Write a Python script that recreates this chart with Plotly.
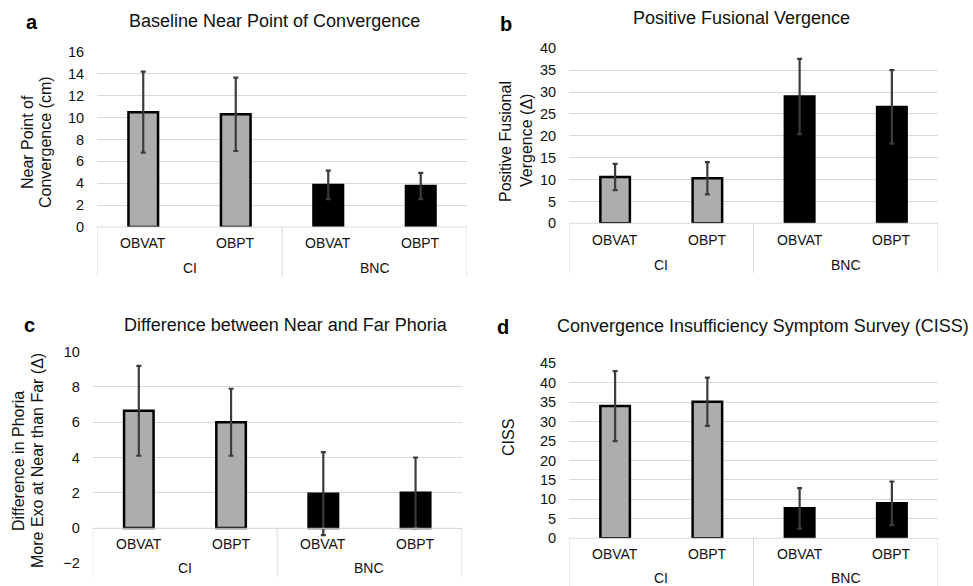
import plotly.graph_objects as go

W, H = 973, 586

# ---- data ----
groups = ["CI", "CI", "BNC", "BNC"]
treatments = ["OBVAT", "OBPT", "OBVAT", "OBPT"]
group_names = ["CI", "BNC"]

npc_mean = [10.5, 10.3, 3.85, 3.75]
npc_sd = [3.7, 3.35, 1.3, 1.2]
pfv_mean = [10.6, 10.3, 29.0, 26.6]
pfv_sd = [3.0, 3.7, 8.6, 8.4]
phoria_mean = [6.65, 6.0, 1.95, 2.0]
phoria_sd = [2.55, 1.9, 2.35, 2.0]
ciss_mean = [34.0, 35.1, 7.7, 9.0]
ciss_sd = [9.0, 6.2, 5.2, 5.6]

FONT = "Liberation Sans, Arial, sans-serif"
TXT = "#111111"
GRID = "#d9d9d9"
GRAY = "#adadad"

bar_colors = [GRAY if g == "CI" else "black" for g in groups]
xs = list(range(len(treatments)))


def px_y(p):
    return 1 - p / H


def px_x(p):
    return p / W


panels = [
    dict(key="a", title="Baseline Near Point of Convergence", mean=npc_mean, sd=npc_sd,
         yr=[0, 16], dtick=2, xd=(97, 467), yd=(227, 52), ypx0=227, bottom=277,
         lab1=243, lab2=268, tpos=dict(x=274, y=21, anchor="center"), letter_xy=(32, 22),
         ytitle=[("Near Point of", 27), ("Convergence (cm)", 45)], ytitle_y=142),
    dict(key="b", title="Positive Fusional Vergence", mean=pfv_mean, sd=pfv_sd,
         yr=[0, 40], dtick=5, xd=(569, 938), yd=(223.3, 48.3), ypx0=223.3, bottom=273,
         lab1=240, lab2=265, tpos=dict(x=741, y=18, anchor="center"), letter_xy=(506, 24),
         ytitle=[("Positive Fusional", 505), ("Vergence (\u0394)", 526)], ytitle_y=141),
    dict(key="c", title="Difference between Near and Far Phoria", mean=phoria_mean, sd=phoria_sd,
         yr=[-2, 10], dtick=2, xd=(92.7, 461.7), yd=(563.3, 351.7), ypx0=528.3, bottom=577,
         lab1=544, lab2=568, tpos=dict(x=286, y=325, anchor="center"), letter_xy=(29, 325),
         ytitle=[("Difference in Phoria", 18), ("More Exo at Near than Far (\u0394)", 37)], ytitle_y=461),
    dict(key="d", title="Convergence Insufficiency Symptom Survey (CISS)", mean=ciss_mean, sd=ciss_sd,
         yr=[0, 45], dtick=5, xd=(569, 938), yd=(538.3, 363.3), ypx0=538.3, bottom=590,
         lab1=554, lab2=578, tpos=dict(x=971, y=326, anchor="right"), letter_xy=(503, 327),
         ytitle=[("CISS", 508)], ytitle_y=438),
]

fig = go.Figure()
layout = dict(width=W, height=H, margin=dict(l=0, r=0, t=0, b=0, pad=0, autoexpand=False),
              paper_bgcolor="white", plot_bgcolor="white", showlegend=False,
              font=dict(family=FONT, color=TXT))
annotations = []
shapes = []

for i, p in enumerate(panels):
    n = "" if i == 0 else str(i + 1)
    xa, ya = "x" + n, "y" + n
    fig.add_trace(go.Bar(
        x=xs, y=p["mean"], width=0.32, xaxis=xa, yaxis=ya,
        marker=dict(color=bar_colors, line=dict(color="black", width=2.5)),
        error_y=dict(type="data", array=p["sd"], visible=True, color="#3c3c3c",
                     thickness=2.2, width=2.5),
    ))
    layout["xaxis" + n] = dict(domain=[px_x(p["xd"][0]), px_x(p["xd"][1])], anchor=ya,
                               range=[-0.5, len(xs) - 0.5], showticklabels=False,
                               showgrid=False, zeroline=False, showline=False, fixedrange=True,
                               automargin=False)
    layout["yaxis" + n] = dict(domain=[px_y(p["yd"][0]), px_y(p["yd"][1])], anchor=xa,
                               range=p["yr"], dtick=p["dtick"], showgrid=True, gridcolor=GRID,
                               gridwidth=1, zeroline=False, showline=False, automargin=False,
                               ticks="outside", ticklen=9, tickcolor="rgba(0,0,0,0)",
                               tickfont=dict(size=14.5, color=TXT, family=FONT))
    # category box: baseline + dividers
    shapes.append(dict(type="line", xref=xa, yref="paper", x0=-0.5, x1=len(xs) - 0.5,
                       y0=px_y(p["ypx0"]), y1=px_y(p["ypx0"]), line=dict(color=GRID, width=1)))
    for xv in [-0.5, 1.5, 3.5]:
        shapes.append(dict(type="line", xref=xa, yref="paper", x0=xv, x1=xv,
                           y0=px_y(p["ypx0"]), y1=px_y(p["bottom"]), line=dict(color=GRID, width=1)))
    for xv, t in zip(xs, treatments):
        annotations.append(dict(x=xv, y=px_y(p["lab1"]), xref=xa, yref="paper", text=t,
                                showarrow=False, font=dict(size=14, color=TXT), yanchor="middle"))
    for gi, g in enumerate(group_names):
        annotations.append(dict(x=0.5 + 2 * gi, y=px_y(p["lab2"]), xref=xa, yref="paper", text=g,
                                showarrow=False, font=dict(size=14, color=TXT), yanchor="middle"))
    # title, letter, y-title
    t = p["tpos"]
    annotations.append(dict(x=px_x(t["x"]), y=px_y(t["y"]), xref="paper",
                            yref="paper", text=p["title"],
                            showarrow=False, font=dict(size=18, color=TXT),
                            xanchor=t["anchor"], yanchor="middle"))
    annotations.append(dict(x=px_x(p["letter_xy"][0]), y=px_y(p["letter_xy"][1]), xref="paper",
                            yref="paper", text="<b>" + p["key"] + "</b>", showarrow=False,
                            font=dict(size=20, color="black"), xanchor="center", yanchor="middle"))
    for txt, xp in p["ytitle"]:
        annotations.append(dict(x=px_x(xp), y=px_y(p["ytitle_y"]), xref="paper", yref="paper",
                                text=txt, textangle=-90, showarrow=False,
                                font=dict(size=16, color=TXT), xanchor="center", yanchor="middle"))

layout["annotations"] = annotations
layout["shapes"] = shapes
fig.update_layout(**layout)
fig.write_html("out.html", config=dict(displayModeBar=False, staticPlot=True),
               post_script="document.body.style.margin='0';document.body.style.overflow='hidden';")
